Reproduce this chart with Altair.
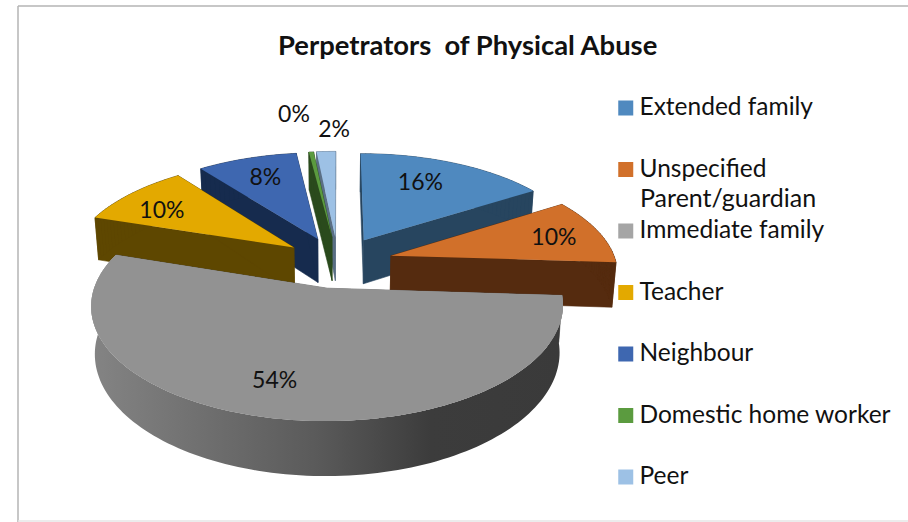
import math
import numpy as np
import altair as alt

# Shares of each perpetrator group, clockwise from twelve o'clock
categories = ["Extended family", "Unspecified Parent/guardian", "Immediate family",
              "Teacher", "Neighbour", "Domestic home worker", "Peer"]
shares = [16, 10, 54, 9.6, 8.4, 0.4, 1.6]

legend_colors = ["#4F89BF", "#D1702A", "#A5A5A5", "#E3A900", "#3E67B0", "#5B9B3F", "#9DC1E5"]
wall_colors = ["#27455F", "#552B0F", "#555555", "#5E4700", "#162B4E", "#2A4A1C", "#5A6F85"]
large_face_color = "#929292"

# Where each percentage sits, as radius and bearing on the undisplaced pie
label_radius = [0.70, 0.775, 0.76, 0.75, 0.726, 1.53, 1.30]
label_bearing = [24.8, 77, 194.9, 301, 338, 351.8, 359.6]

# Painter's order: farthest wedges first
draw_order = [0, 6, 5, 4, 1, 3, 2]

# 3D pie projection settings
CX, CY = 338.0, 262.0
RX, RY = 225.0, 105.0
PERSPECTIVE = 0.146
EXPLODE = 0.245
DEPTH = 45.0
FLOOR_SHRINK = 0.985


def ground(u, v):
    w = 1 + PERSPECTIVE * v
    return CX + RX * u / w, CY - RY * v / w, w


def top_point(u, v):
    x, y, _ = ground(u, v)
    return [x, y]


def floor_point(u, v):
    x, y, w = ground(u, v)
    return [CX + (x - CX) * FLOOR_SHRINK, y + DEPTH / w]


def polygon(ring, **props):
    ring = ring + [ring[0]]
    return {"type": "Feature", "properties": props,
            "geometry": {"type": "Polygon", "coordinates": [ring]}}


def quad(a, b, fill):
    return polygon([top_point(*a), top_point(*b), floor_point(*b), floor_point(*a)], fill=fill)


total = sum(shares)
edges = np.cumsum([0] + shares) / total * 360

layers = []
projection = dict(type="identity", scale=1, translate=[0, 0])

color_scale = alt.Scale(domain=categories, range=legend_colors)
legend = alt.Legend(
    title=None, orient="none", legendX=613.5, legendY=93.5, padding=0,
    symbolType="square", symbolSize=225, symbolStrokeWidth=0, symbolOffset=0,
    labelFont="Lato", labelFontSize=24.5, labelColor="#111111", labelOffset=1.5,
    labelLimit=400, rowPadding=32.5, clipHeight=29,
    labelExpr="datum.label == 'Unspecified Parent/guardian' ? 'Unspecified' : datum.label",
)

# Left-to-right shading of the curved front wall of the largest wedge
front_wall_fill = alt.Gradient(
    gradient="linear", x1=0, x2=1, y1=0, y2=0,
    stops=[
        alt.GradientStop(color="#848484", offset=0),
        alt.GradientStop(color="#5A5A5A", offset=0.48),
        alt.GradientStop(color="#3C3C3C", offset=0.72),
        alt.GradientStop(color="#3A3A3A", offset=1),
    ],
)

for i in draw_order:
    start, end = edges[i], edges[i + 1]
    mid = math.radians((start + end) / 2)
    ou, ov = EXPLODE * math.sin(mid), EXPLODE * math.cos(mid)
    steps = max(2, int((end - start) / 1.5))
    rim = [(ou + math.sin(math.radians(t)), ov + math.cos(math.radians(t)))
           for t in np.linspace(start, end, steps + 1)]
    apex = (ou, ov)

    walls = [quad(apex, rim[0], wall_colors[i]), quad(apex, rim[-1], wall_colors[i])]
    if i != 2:
        walls += [quad(a, b, wall_colors[i]) for a, b in zip(rim[:-1], rim[1:])]

    layers.append(
        alt.Chart(alt.Data(values=walls)).mark_geoshape(filled=True, strokeWidth=0.6).encode(
            color=alt.Color("properties.fill:N", scale=None),
            stroke=alt.Stroke("properties.fill:N", scale=None),
        ).project(**projection)
    )

    if i == 2:
        # Only the part of the rim that faces the viewer needs the shaded wall
        ring = [top_point(*p) for p in rim] + [floor_point(*p) for p in reversed(rim)]
        layers.append(
            alt.Chart(alt.Data(values=[polygon(ring)])).mark_geoshape(
                filled=True, fill=front_wall_fill, strokeWidth=0
            ).project(**projection)
        )

    ring = [top_point(*apex)] + [top_point(*p) for p in rim]
    layers.append(
        alt.Chart(alt.Data(values=[polygon(ring, category=categories[i])])).mark_geoshape(
            filled=True, strokeWidth=0
        ).encode(
            color=alt.Color("properties.category:N", scale=color_scale, legend=legend,
                            sort=categories),
        ).project(**projection)
    )
    if i == 2:
        # The lit top of the largest wedge is a shade darker than its legend key
        layers.append(
            alt.Chart(alt.Data(values=[polygon(ring)])).mark_geoshape(
                filled=True, fill=large_face_color, strokeWidth=0
            ).project(**projection)
        )

# Percentage labels
label_rows = []
for i, share in enumerate(shares):
    mid = math.radians((edges[i] + edges[i + 1]) / 2)
    ou, ov = EXPLODE * math.sin(mid), EXPLODE * math.cos(mid)
    b = math.radians(label_bearing[i])
    x, y = top_point(ou + label_radius[i] * math.sin(b), ov + label_radius[i] * math.cos(b))
    label_rows.append({"lon": x, "lat": y, "text": f"{round(share)}%"})

layers.append(
    alt.Chart(alt.Data(values=label_rows)).mark_text(
        font="Lato", fontSize=23, color="#111111", align="center", baseline="middle"
    ).encode(longitude="lon:Q", latitude="lat:Q", text="text:N").project(**projection)
)

# Second line of the wrapped legend entry
layers.append(
    alt.Chart(alt.Data(values=[{"text": "Parent/guardian"}])).mark_text(
        font="Lato", fontSize=25, color="#111111", align="left", baseline="middle"
    ).encode(x=alt.value(640), y=alt.value(199), text="text:N")
)

# Chart area frame
frame = [
    ("#B5B5B5", dict(x=alt.value(18), y=alt.value(6), y2=alt.value(522))),
    ("#B5B5B5", dict(x=alt.value(18), x2=alt.value(908), y=alt.value(6))),
    ("#E6E6E6", dict(x=alt.value(18), x2=alt.value(908), y=alt.value(521))),
]
frame_layers = [
    alt.Chart(alt.Data(values=[{"k": 0}])).mark_rule(color=c, strokeWidth=1.5).encode(**enc)
    for c, enc in frame
]

chart = alt.layer(*frame_layers, *layers).properties(
    width=908, height=522, padding=0,
    autosize=alt.AutoSizeParams(type="none"),
    background="white",
    title=alt.TitleParams(
        "Perpetrators \u00a0of Physical Abuse", anchor="start", frame="group", dx=278, dy=64,
        font="Lato", fontSize=27.4, fontWeight="bold", color="#111111",
    ),
).configure_view(stroke=None)

chart.save("out.html", embed_options={"renderer": "svg", "actions": False})
